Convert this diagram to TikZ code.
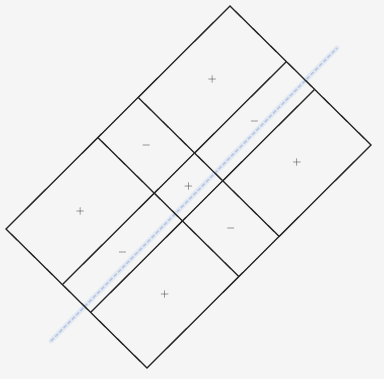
\documentclass[tikz,border=0pt]{standalone}
\begin{document}
\begin{tikzpicture}[x=1pt,y=1pt,
  frame/.style={draw=black!85, line width=1.3pt},
  sign/.style={font=\fontsize{13}{13}\selectfont, text=black!85, inner sep=0pt},
  halo/.style={draw={rgb,255:red,226;green,233;blue,243}, line width=5pt, line cap=round},
  axisline/.style={draw={rgb,255:red,185;green,198;blue,225}, line width=1.5pt, dash pattern=on 4pt off 2pt}]
\fill[black!4] (0,0) rectangle (384,379);
\useasboundingbox (0,0) rectangle (384,379);
\coordinate (a1) at (51,38);
\coordinate (a2) at (337,331);
\draw[halo] (a1) -- (a2);
\draw[axisline] (a1) -- (a2);
\begin{scope}[shift={(6,150)}, x={(224pt,223pt)}, y={(141pt,-139pt)}]
 \draw[frame] (0,0) -- (1,0) -- (1,1) -- (0,1) -- cycle;
 \draw[frame] (0.41,0) -- (0.41,1);
 \draw[frame] (0.59,0) -- (0.59,1);
 \draw[frame] (0,0.4) -- (1,0.4);
 \draw[frame] (0,0.6) -- (1,0.6);
 \node[sign] (s1) at (0.795,0.2) {$+$};
 \node[sign] (s2) at (0.795,0.5) {$-$};
 \node[sign] (s3) at (0.795,0.8) {$+$};
 \node[sign] (s4) at (0.5,0.2) {$-$};
 \node[sign] (s5) at (0.5,0.5) {$+$};
 \node[sign] (s6) at (0.5,0.8) {$-$};
 \node[sign] (s7) at (0.205,0.2) {$+$};
 \node[sign] (s8) at (0.205,0.5) {$-$};
 \node[sign] (s9) at (0.205,0.8) {$+$};
\end{scope}
\end{tikzpicture}
\end{document}
